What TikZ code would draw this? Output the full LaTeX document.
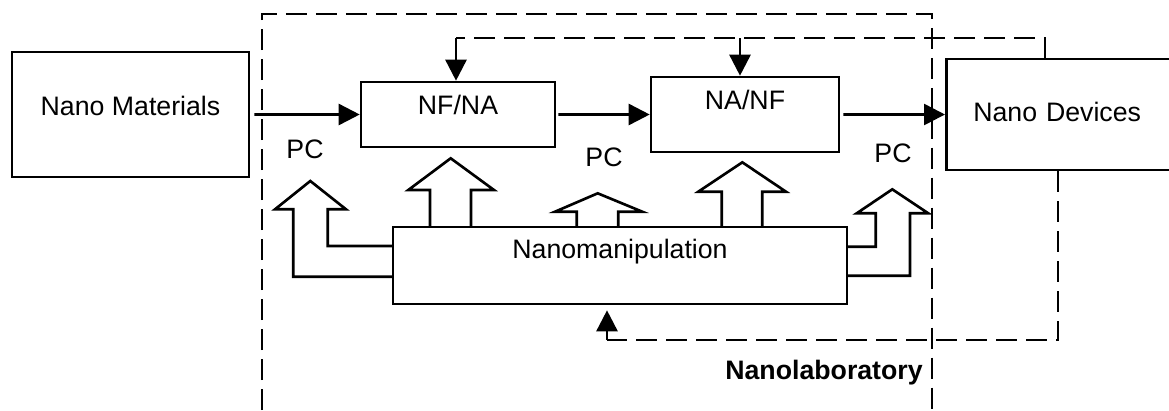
\documentclass[tikz,border=0pt]{standalone}
\usepackage{fontspec}
\setmainfont{Liberation Sans}
\usetikzlibrary{arrows.meta}

\tikzset{
  boite/.style={draw, line width=1.5pt, inner xsep=0pt, inner ysep=0pt, anchor=base},
  fleche/.style={line width=1.5pt, -{Triangle[length=0.42cm,width=0.42cm]}},
  tiret/.style={line width=1.5pt, dash pattern=on 0.42cm off 0.18cm},
  creuse/.style={draw, line width=1.5pt, line join=miter}
}

\begin{document}
\begin{tikzpicture}[x=0.02cm, y=-0.02cm, font=\fontsize{15.2}{18}\selectfont]
        \useasboundingbox (0,0) rectangle (1169,410);

        % Le nanolaboratoire
        \draw[tiret] (262,410) -- (262,14) -- (932,14) -- (932,410);
        \node[anchor=base] (labo) at (824,379.3) {\textbf{Nanolaboratory}};

        % Les boites
        \node[boite, minimum width=4.74cm, text height=1.26cm, text depth=1.24cm] (mat) at (130.5,115) {Nano Materials};
        \node[boite, minimum width=3.88cm, text height=0.646cm, text depth=0.654cm] (nfna) at (458,114.3) {NF/NA};
        \node[boite, minimum width=3.76cm, text height=0.64cm, text depth=0.86cm] (nanf) at (745,109) {NA/NF};
        \node[boite, anchor=base west, inner xsep=0.54cm, text width=4.4cm, align=left, text height=1.254cm, text depth=0.966cm] (dev) at (945,121.7) {Nano Devices};
        \node[boite, minimum width=9.08cm, text height=0.63cm, text depth=0.91cm] (nm) at (620,258.5) {Nanomanipulation};

        % Les PC
        \node[anchor=base] (pc1) at (305,158.3) {PC};
        \node[anchor=base] (pc2) at (604,166.5) {PC};
        \node[anchor=base] (pc3) at (893,162.3) {PC};

        % Chaine principale
        \draw[fleche] ([xshift=0.08cm]mat.east) -- (nfna.west);
        \draw[fleche] ([xshift=0.04cm]nfna.east) -- (nanf.west);
        \draw[fleche] ([xshift=0.06cm]nanf.east) -- (dev.west);

        % Retour du haut
        \coordinate (h1) at (1045,38);
        \coordinate (a1) at ([xshift=-0.04cm]nfna.north);
        \coordinate (a2) at ([xshift=-0.1cm]nanf.north);
        \draw[tiret] (h1 |- dev.north) -- (h1) -- (a1 |- h1);
        \draw[fleche] (a1 |- h1) -- (a1);
        \draw[fleche] (a2 |- h1) -- (a2);

        % Retour du bas
        \coordinate (h2) at (1058,340);
        \coordinate (a3) at ([xshift=-0.26cm]nm.south);
        \draw[tiret] (h2 |- dev.south) -- (h2) -- (a3 |- h2);
        \draw[fleche, shorten >=0.1cm] (a3 |- h2) -- (a3);

        % Fleches creuses
        \draw[creuse] (393,246) -- (327.7,246) -- (327.7,209.3) -- (346,209.3) -- (310.3,181) -- (275,209.3) -- (293.3,209.3) -- (293.3,276.7) -- (393,276.7);
        \draw[creuse] (430,227) -- (430,190) -- (408.3,190) -- (450.7,158.3) -- (494,190) -- (471,190) -- (471,227);
        \draw[creuse] (576.7,227) -- (576.7,211.7) -- (555,211.7) -- (597.7,193.3) -- (642.3,211.7) -- (618.3,211.7) -- (618.3,227);
        \draw[creuse] (721.7,227) -- (721.7,191.7) -- (698.3,191.7) -- (742.3,162.3) -- (786,191.7) -- (762.3,191.7) -- (762.3,227);
        \draw[creuse] (847,246.7) -- (875.7,246.7) -- (875.7,213.3) -- (856.7,213.3) -- (892.3,189.3) -- (928.3,213.3) -- (910,213.3) -- (910,275.7) -- (847,275.7);
\end{tikzpicture}
\end{document}
